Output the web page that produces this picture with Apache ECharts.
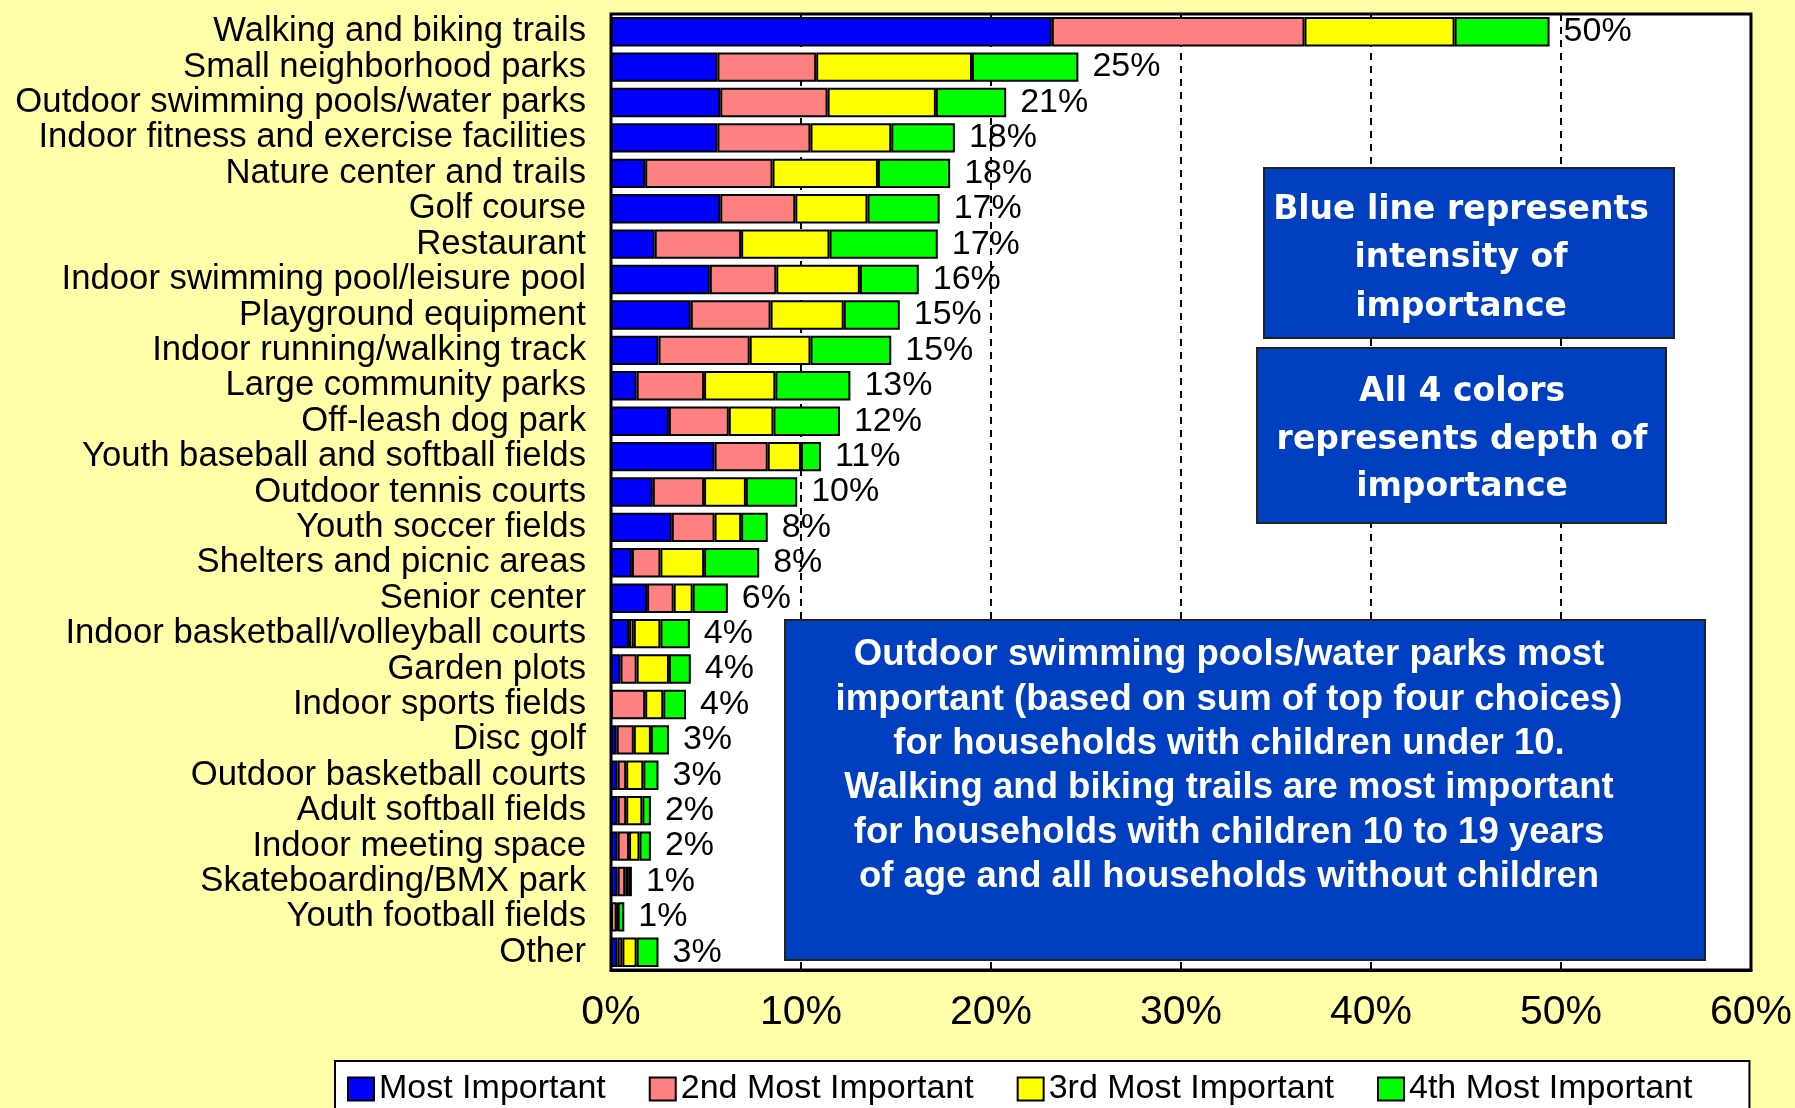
<!DOCTYPE html>
<html><head><meta charset="utf-8">
<script src="https://cdn.jsdelivr.net/npm/echarts@6/dist/echarts.min.js"></script>
<style>html,body{margin:0;padding:0;background:#FFFFAA;overflow:hidden;} #c{width:1795px;height:1108px;}</style>
</head><body><div id="c"></div>
<script>
const categories = ['Walking and biking trails','Small neighborhood parks','Outdoor swimming pools/water parks','Indoor fitness and exercise facilities','Nature center and trails','Golf course','Restaurant','Indoor swimming pool/leisure pool','Playground equipment','Indoor running/walking track','Large community parks','Off-leash dog park','Youth baseball and softball fields','Outdoor tennis courts','Youth soccer fields','Shelters and picnic areas','Senior center','Indoor basketball/volleyball courts','Garden plots','Indoor sports fields','Disc golf','Outdoor basketball courts','Adult softball fields','Indoor meeting space','Skateboarding/BMX park','Youth football fields','Other'];
const mostImportant = [23.2, 5.6, 5.75, 5.6, 1.8, 5.75, 2.3, 5.2, 4.2, 2.5, 1.35, 3.05, 5.45, 2.2, 3.2, 1.1, 1.9, 0.95, 0.5, 0, 0.3, 0.35, 0.35, 0.35, 0.35, 0, 0.35];
const secondMost = [13.3, 5.2, 5.65, 4.9, 6.7, 3.95, 4.55, 3.5, 4.2, 4.8, 3.55, 3.15, 2.8, 2.7, 2.25, 1.5, 1.4, 0.25, 0.85, 1.8, 0.9, 0.45, 0.45, 0.6, 0.4, 0.3, 0.25];
const thirdMost = [7.9, 8.2, 5.7, 4.25, 5.55, 3.8, 4.65, 4.4, 3.85, 3.2, 3.75, 2.35, 1.75, 2.2, 1.4, 2.3, 1.0, 1.4, 1.7, 0.95, 0.9, 0.9, 0.85, 0.55, 0.15, 0.05, 0.75];
const fourthMost = [5.0, 5.6, 3.7, 3.35, 3.8, 3.8, 5.7, 3.1, 2.95, 4.25, 3.95, 3.5, 1.05, 2.7, 1.4, 2.9, 1.85, 1.55, 1.15, 1.2, 0.95, 0.8, 0.45, 0.6, 0.2, 0.35, 1.15];
const totalLabels = [50, 25, 21, 18, 18, 17, 17, 16, 15, 15, 13, 12, 11, 10, 8, 8, 6, 4, 4, 4, 3, 3, 2, 2, 1, 1, 3];
const seriesNames = ['Most Important', '2nd Most Important', '3rd Most Important', '4th Most Important'];
const seriesColors = ['#0000FF', '#FF8080', '#FFFF00', '#00FF00'];
const xMin = 0, xMax = 60, xStep = 10;

const FONT = '"Liberation Sans", Arial, sans-serif';
const seriesData = [mostImportant, secondMost, thirdMost, fourthMost];

const chart = echarts.init(document.getElementById('c'));
const series = seriesData.map((d, i) => ({
  name: seriesNames[i],
  type: 'bar',
  stack: 'total',
  data: d,
  barCategoryGap: '17%',
  itemStyle: { color: seriesColors[i], borderColor: '#000', borderWidth: 2 },
  label: i === 3 ? {
    show: true, position: 'right', distance: 14,
    formatter: p => totalLabels[p.dataIndex] + '%',
    fontSize: 34, color: '#000', fontFamily: FONT
  } : { show: false },
  animation: false
}));

chart.setOption({
  animation: false,
  backgroundColor: '#FFFFAA',
  grid: { left: 611, right: 43, top: 14, bottom: 138, show: true, backgroundColor: '#FFFFFF', borderColor: '#000', borderWidth: 3 },
  xAxis: {
    type: 'value', min: xMin, max: xMax, interval: xStep,
    axisLabel: { formatter: '{value}%', fontSize: 41, color: '#000', margin: 22, fontFamily: FONT },
    splitLine: { show: true, lineStyle: { color: '#000', type: [7, 6], width: 2 } },
    axisLine: { show: true, lineStyle: { color: '#000', width: 3 } },
    axisTick: { show: true, inside: true, length: 8, lineStyle: { color: '#000', width: 2 } }
  },
  yAxis: {
    type: 'category', data: categories, inverse: true,
    axisLabel: { interval: 0, fontSize: 34.7, color: '#000', margin: 25, fontFamily: FONT },
    axisTick: { show: false }, axisLine: { show: false }, splitLine: { show: false }
  },
  legend: {
    data: seriesNames, left: 335, top: 1061, orient: 'horizontal',
    icon: 'rect', itemWidth: 26, itemHeight: 23, itemGap: 43,
    padding: [11, 57, 40, 12],
    backgroundColor: '#FFFFFF', borderColor: '#000', borderWidth: 2,
    textStyle: { fontSize: 34, color: '#000', fontFamily: FONT }
  },
  series: series,
  graphic: [
    { type: 'rect', z: 100, shape: { x: 1264, y: 168, width: 410, height: 170 }, style: { fill: '#0040C0', stroke: '#222', lineWidth: 2 } },
    { type: 'text', z: 101, style: { text: 'Blue line represents\nintensity of\nimportance', x: 1461, y: 186, fill: '#fff', font: 'bold 33px "DejaVu Sans"', align: 'center', verticalAlign: 'top', lineHeight: 48.5 } },
    { type: 'rect', z: 100, shape: { x: 1257, y: 348, width: 409, height: 175 }, style: { fill: '#0040C0', stroke: '#222', lineWidth: 2 } },
    { type: 'text', z: 101, style: { text: 'All 4 colors\nrepresents depth of\nimportance', x: 1462, y: 369, fill: '#fff', font: 'bold 33px "DejaVu Sans"', align: 'center', verticalAlign: 'top', lineHeight: 47.5 } },
    { type: 'rect', z: 100, shape: { x: 785, y: 620, width: 920, height: 340 }, style: { fill: '#0040C0', stroke: '#222', lineWidth: 2 } },
    { type: 'text', z: 101, style: { text: 'Outdoor swimming pools/water parks most\nimportant (based on sum of top four choices)\nfor households with children under 10.\nWalking and biking trails are most important\nfor households with children 10 to 19 years\nof age and all households without children', x: 1229, y: 633, fill: '#fff', font: 'bold 36.5px "Liberation Sans"', align: 'center', verticalAlign: 'top', lineHeight: 44.4 } }
  ]
});
</script></body></html>
